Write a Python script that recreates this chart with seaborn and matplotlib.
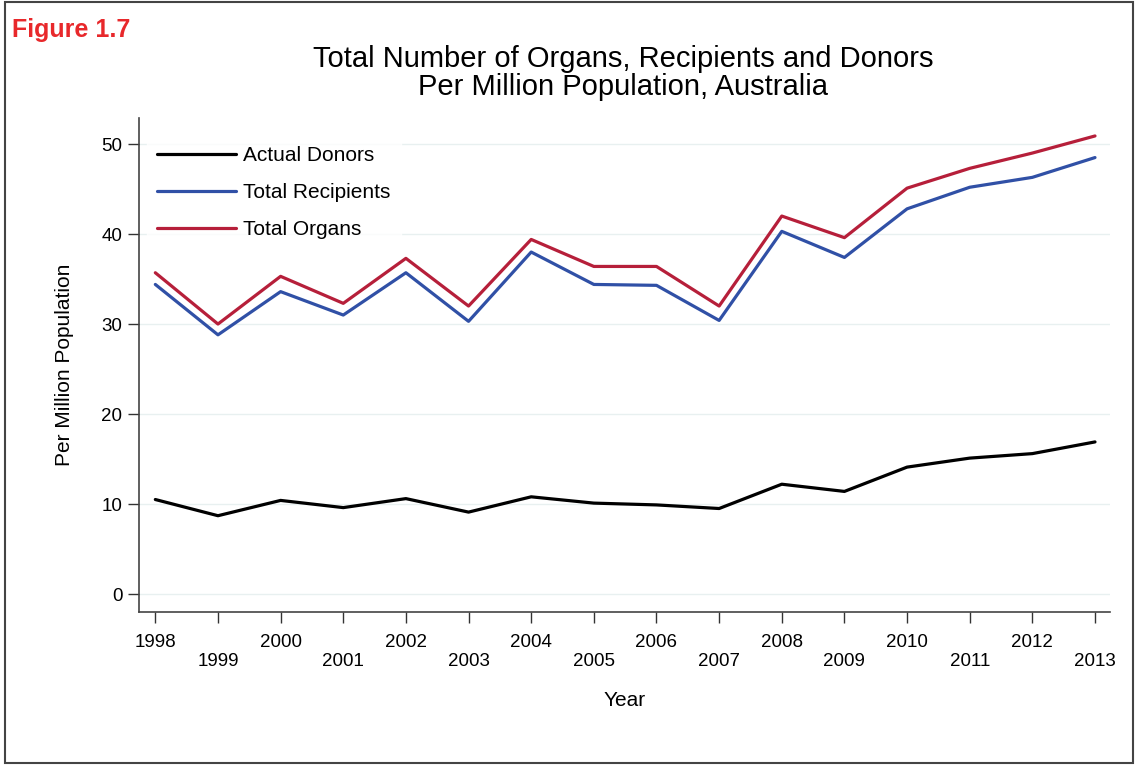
import pandas as pd
import seaborn as sns
import matplotlib.pyplot as plt
from matplotlib.patches import Rectangle

years = list(range(1998, 2014))
actual_donors = [10.5, 8.7, 10.4, 9.6, 10.6, 9.1, 10.8, 10.1, 9.9, 9.5, 12.2, 11.4, 14.1, 15.1, 15.6, 16.9]
total_recipients = [34.4, 28.8, 33.6, 31.0, 35.7, 30.3, 38.0, 34.4, 34.3, 30.4, 40.3, 37.4, 42.8, 45.2, 46.3, 48.5]
total_organs = [35.7, 30.0, 35.3, 32.3, 37.3, 32.0, 39.4, 36.4, 36.4, 32.0, 42.0, 39.6, 45.1, 47.3, 49.0, 50.9]
series_names = ["Actual Donors", "Total Recipients", "Total Organs"]
series_colors = ["#000000", "#3050a6", "#b61f3a"]
y_ticks = [0, 10, 20, 30, 40, 50]

df = pd.DataFrame({"Year": years,
                   series_names[0]: actual_donors,
                   series_names[1]: total_recipients,
                   series_names[2]: total_organs})
long_df = df.melt(id_vars="Year", var_name="Series", value_name="Value")

sns.set_theme(style="white")
plt.rcParams['font.family'] = ['Liberation Sans', 'DejaVu Sans']
plt.rcParams['text.color'] = 'black'
plt.rcParams['axes.labelcolor'] = 'black'

fig = plt.figure(figsize=(11.35, 7.65), dpi=100)
ax = fig.add_axes([0.1225, 0.2, 0.8555, 0.6458])

sns.lineplot(data=long_df, x="Year", y="Value", hue="Series",
             hue_order=series_names, palette=series_colors,
             linewidth=2.3, ax=ax)

ax.set_xlim(1997.74, 2013.24)
ax.set_ylim(-2, 52.9)
ax.set_yticks(y_ticks)
ax.set_yticklabels([str(v) for v in y_ticks], fontsize=13.5)
ax.set_xticks(years)
ax.set_xticklabels([str(y) if y % 2 == 0 else "\n" + str(y) for y in years],
                   fontsize=13.5, linespacing=1.12)
ax.tick_params(axis="both", direction="out", length=8, width=1, color="#333333",
               labelcolor="black", bottom=True, left=True)
ax.tick_params(axis="x", pad=8)
ax.tick_params(axis="y", pad=4)

for side in ["top", "right"]:
    ax.spines[side].set_visible(False)
for side in ["left", "bottom"]:
    ax.spines[side].set_color("#444444")
    ax.spines[side].set_linewidth(1.2)

ax.yaxis.grid(True, color="#e8f0f0", linewidth=1)
ax.set_axisbelow(True)

ax.set_xlabel("Year", fontsize=15, labelpad=15)
ax.set_ylabel("Per Million Population", fontsize=15, labelpad=20)

leg = ax.legend(loc="upper left", bbox_to_anchor=(-0.003, 0.985), frameon=True,
                fontsize=15, handlelength=3.8, handletextpad=0.35,
                labelspacing=0.86, borderpad=0.5)
leg.get_frame().set_facecolor("white")
leg.get_frame().set_edgecolor("white")
leg.set_title(None)

fig.text(0.549, 0.905, "Total Number of Organs, Recipients and Donors\nPer Million Population, Australia",
         ha="center", va="center", fontsize=21, linespacing=1.0)
fig.text(0.011, 0.961, "Figure 1.7", color="#e8282b", fontsize=18, fontweight="bold",
         ha="left", va="center")

fig.patches.append(Rectangle((0.004, 0.002), 0.994, 0.996, transform=fig.transFigure,
                             fill=False, edgecolor="#444444", linewidth=1.5))

fig.savefig("out.png", dpi=100)
